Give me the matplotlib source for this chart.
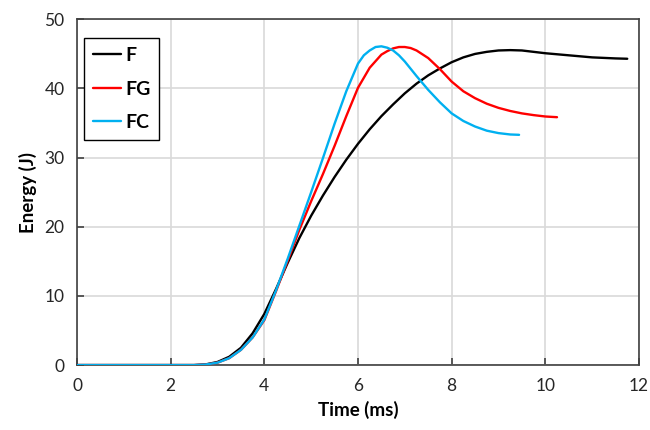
import numpy as np
import matplotlib
matplotlib.use("Agg")
import matplotlib.pyplot as plt

# Energy vs time for the three samples
t_f = [0, 2.0, 2.5, 2.75, 3.0, 3.25, 3.5, 3.75, 4.0, 4.25, 4.5, 4.75, 5.0, 5.25, 5.5,
       5.75, 6.0, 6.25, 6.5, 6.75, 7.0, 7.25, 7.5, 7.75, 8.0, 8.25, 8.5, 8.75, 9.0,
       9.25, 9.5, 9.75, 10.0, 10.5, 11.0, 11.5, 11.75]
e_f = [0, 0, 0.0, 0.1, 0.45, 1.2, 2.5, 4.6, 7.4, 11.0, 14.8, 18.4, 21.6, 24.5, 27.2,
       29.7, 32.0, 34.1, 36.0, 37.7, 39.3, 40.7, 41.9, 42.9, 43.8, 44.5, 45.0, 45.3, 45.5,
       45.55, 45.5, 45.3, 45.1, 44.8, 44.5, 44.35, 44.3]

t_fg = [0, 2.0, 2.5, 2.75, 3.0, 3.25, 3.5, 3.75, 4.0, 4.25, 4.5, 4.75, 5.0, 5.25, 5.5,
        5.75, 6.0, 6.25, 6.5, 6.625, 6.75, 6.875, 7.0, 7.125, 7.25, 7.5, 7.75, 8.0, 8.25,
        8.5, 8.75, 9.0, 9.25, 9.5, 9.75, 10.0, 10.25]
e_fg = [0, 0, 0.0, 0.08, 0.35, 1.0, 2.2, 4.0, 6.5, 10.7, 15.1, 19.6, 23.7, 27.6, 31.7,
        36.0, 40.1, 43.0, 44.9, 45.4, 45.8, 46.0, 46.0, 45.85, 45.5, 44.4, 42.8, 41.0, 39.6,
        38.6, 37.8, 37.2, 36.75, 36.4, 36.15, 35.95, 35.85]

t_fc = [0, 2.0, 2.5, 2.75, 3.0, 3.25, 3.5, 3.75, 4.0, 4.25, 4.5, 4.75, 5.0, 5.25, 5.5,
        5.75, 6.0, 6.125, 6.25, 6.375, 6.5, 6.625, 6.75, 6.875, 7.0, 7.25, 7.5, 7.75, 8.0,
        8.25, 8.5, 8.75, 9.0, 9.25, 9.44]
e_fc = [0, 0, 0.0, 0.08, 0.35, 1.0, 2.2, 4.0, 6.6, 10.8, 15.4, 20.2, 25.0, 29.9, 34.9,
        39.6, 43.6, 44.8, 45.5, 46.0, 46.1, 45.9, 45.5, 44.8, 43.9, 41.8, 39.8, 38.0, 36.4,
        35.3, 34.5, 33.9, 33.55, 33.35, 33.3]

labels = ["F", "FG", "FC"]
colors = ["#000000", "#ff0000", "#00b0f0"]

x_ticks = [0, 2, 4, 6, 8, 10, 12]
y_ticks = [0, 10, 20, 30, 40, 50]

plt.rcParams['font.family'] = ['Lato', 'DejaVu Sans']

fig = plt.figure(figsize=(6.5, 4.3), dpi=100)
ax = fig.add_axes([0.1185, 0.151, 0.8645, 0.804])

for t, e, lab, c in zip([t_f, t_fg, t_fc], [e_f, e_fg, e_fc], labels, colors):
    ax.plot(t, e, color=c, lw=1.7, label=lab, zorder=3,
            solid_joinstyle="round", solid_capstyle="round")

ax.set_xlim(0, 12)
ax.set_ylim(0, 50)
ax.set_xticks(x_ticks)
ax.set_yticks(y_ticks)
ax.grid(True, color="#d9d9d9", lw=1.2, zorder=0)
ax.set_axisbelow(True)

for sp in ax.spines.values():
    sp.set_color("#404040")
    sp.set_linewidth(1.2)

ax.tick_params(direction="in", length=5, width=1.2, color="#404040",
               labelsize=12.5, labelcolor="#262626", pad=9)

ax.set_xlabel("Time (ms)", fontsize=13.5, fontweight="bold", labelpad=5)
ax.set_ylabel("Energy (J)", fontsize=13.5, fontweight="bold", labelpad=5)

leg = ax.legend(loc="upper left", bbox_to_anchor=(0.0125, 0.945), borderaxespad=0,
                frameon=True, fancybox=False, edgecolor="#000000", framealpha=1,
                handlelength=1.45, borderpad=0.45, labelspacing=0.85, handletextpad=0.2,
                prop={'weight': 'bold', 'size': 14})
leg.get_frame().set_linewidth(1.0)

fig.savefig("out.png", dpi=100)
